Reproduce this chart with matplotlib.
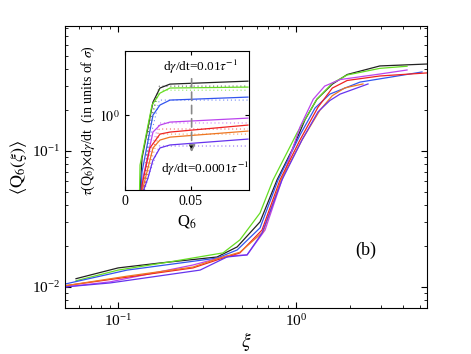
import numpy as np
import matplotlib
matplotlib.use("Agg")
import matplotlib.pyplot as plt

plt.rcParams["font.family"] = ["Liberation Serif", "DejaVu Serif"]
plt.rcParams["mathtext.fontset"] = "stix"

# main panel: <Q6(xi)> vs xi, one curve per shear rate
xi_black = [0.058, 0.1, 0.172, 0.36, 0.467, 0.628, 0.782, 0.95, 1.125, 1.31, 1.6, 1.94, 2.96, 5.45]
q6_black = [0.0115, 0.0138, 0.0150, 0.0166, 0.0197, 0.0301, 0.0612, 0.1016, 0.170, 0.240, 0.310, 0.365, 0.422, 0.436]
xi_green = [0.058, 0.1, 0.196, 0.389, 0.484, 0.628, 0.743, 1.013, 1.31, 1.6, 1.94, 2.96, 4.21]
q6_green = [0.0111, 0.0133, 0.0153, 0.0178, 0.0222, 0.035, 0.0612, 0.1355, 0.240, 0.315, 0.362, 0.405, 0.420]
xi_blue = [0.0503, 0.1124, 0.36, 0.467, 0.628, 0.793, 1.053, 1.28, 1.55, 2.29, 5.11]
q6_blue = [0.0105, 0.0133, 0.0163, 0.0187, 0.0272, 0.0612, 0.131, 0.207, 0.262, 0.321, 0.381]
xi_magenta = [0.0503, 0.0902, 0.2636, 0.409, 0.531, 0.670, 0.834, 1.053, 1.25, 1.45, 1.77, 2.96, 4.21]
q6_magenta = [0.0100, 0.0109, 0.0145, 0.0169, 0.0172, 0.0262, 0.0612, 0.150, 0.240, 0.300, 0.335, 0.368, 0.394]
xi_red = [0.0503, 0.1124, 0.2636, 0.36, 0.484, 0.644, 0.813, 1.053, 1.33, 1.6, 1.94, 2.96, 5.45]
q6_red = [0.0102, 0.0118, 0.0138, 0.0158, 0.0178, 0.0262, 0.0612, 0.1205, 0.210, 0.290, 0.330, 0.356, 0.375]
xi_orange = [0.0503, 0.1124, 0.2636, 0.36, 0.484, 0.653, 0.824, 1.081, 1.365, 1.6, 1.88, 2.38]
q6_orange = [0.0102, 0.0120, 0.0140, 0.0161, 0.018, 0.0254, 0.0612, 0.1205, 0.200, 0.255, 0.291, 0.311]
xi_purple = [0.0503, 0.0902, 0.289, 0.409, 0.531, 0.644, 0.834, 1.081, 1.33, 1.55, 1.77, 2.54]
q6_purple = [0.0100, 0.0107, 0.0133, 0.0166, 0.0172, 0.0249, 0.0612, 0.1205, 0.194, 0.235, 0.262, 0.311]

# inset: tau(Q6) x dgamma/dt vs Q6
iq_black = [0.0114, 0.0129, 0.0212, 0.0265, 0.0341, 0.0932]
it_black = [0.39, 0.592, 1.175, 1.397, 1.466, 1.52]
iq_green = [0.0110, 0.0114, 0.0205, 0.0265, 0.0341, 0.0932]
it_green = [0.39, 0.543, 1.134, 1.312, 1.397, 1.413]
iq_blue = [0.0121, 0.0129, 0.0212, 0.0265, 0.0341, 0.0932]
it_blue = [0.38, 0.499, 1.002, 1.134, 1.205, 1.25]
iq_magenta = [0.0130, 0.0136, 0.0212, 0.0265, 0.0341, 0.0932]
it_magenta = [0.38, 0.463, 0.814, 0.887, 0.920, 0.966]
iq_red = [0.0125, 0.0129, 0.0189, 0.0265, 0.0341, 0.0932]
it_red = [0.38, 0.425, 0.670, 0.794, 0.814, 0.887]
iq_orange = [0.0132, 0.0136, 0.0212, 0.0265, 0.0341, 0.0932]
it_orange = [0.38, 0.410, 0.670, 0.738, 0.765, 0.824]
iq_purple = [0.0136, 0.0174, 0.0212, 0.0265, 0.0341, 0.0932]
it_purple = [0.39, 0.463, 0.578, 0.670, 0.695, 0.747]

# dotted reference curves in the inset
dot_q = [0.014, 0.018, 0.026, 0.0932]
dot_black = [0.38, 0.85, 1.43, 1.43]
dot_green = [0.38, 0.80, 1.36, 1.36]
dot_blue = [0.38, 0.70, 1.205, 1.205]
dot_magenta = [0.38, 0.60, 0.91, 0.91]
dot_red = [0.38, 0.55, 0.845, 0.845]
dot_orange = [0.38, 0.52, 0.794, 0.794]
dot_purple = [0.38, 0.48, 0.686, 0.686]

colors = {
    "black": "#222222", "green": "#66dd22", "blue": "#3355ee",
    "magenta": "#bb44ee", "red": "#ee2222", "orange": "#ee7722", "purple": "#6633ee",
}

main = [
    ("black", xi_black, q6_black), ("green", xi_green, q6_green),
    ("blue", xi_blue, q6_blue), ("magenta", xi_magenta, q6_magenta),
    ("red", xi_red, q6_red), ("orange", xi_orange, q6_orange),
    ("purple", xi_purple, q6_purple),
]
inset = [
    ("black", iq_black, it_black, dot_black), ("green", iq_green, it_green, dot_green),
    ("blue", iq_blue, it_blue, dot_blue), ("magenta", iq_magenta, it_magenta, dot_magenta),
    ("red", iq_red, it_red, dot_red), ("orange", iq_orange, it_orange, dot_orange),
    ("purple", iq_purple, it_purple, dot_purple),
]

fig = plt.figure(figsize=(4.71, 3.54), dpi=100)
ax = fig.add_axes([65 / 471, 1 - 308 / 354, 362 / 471, 282 / 354])

for name, x, y in main:
    ax.plot(x, y, color=colors[name], lw=0.9)

ax.set_xscale("log")
ax.set_yscale("log")
ax.set_xlim(0.0503, 5.45)
ax.set_ylim(0.0070, 0.83)
ax.tick_params(which="both", direction="in", top=True, right=True, labelsize=11)
ax.tick_params(which="major", length=4)
ax.tick_params(which="minor", length=2)
ax.set_xlabel(r"$\xi$", fontsize=14, labelpad=1)
ax.set_ylabel(r"$\langle \mathrm{Q}_6(\xi)\rangle$", fontsize=13, labelpad=2)
ax.text(0.83, 0.205, "(b)", transform=ax.transAxes, fontsize=13, ha="center", va="center")

ins = fig.add_axes([125 / 471, 1 - 190 / 354, 124 / 471, 139 / 354])
for name, x, y, yd in inset:
    ins.plot(dot_q, yd, color=colors[name], lw=0.8, ls=(0, (1, 2.5)), alpha=0.7)
    ins.plot(x, y, color=colors[name], lw=0.9)

ins.set_yscale("log")
ins.set_xlim(0, 0.094)
ins.set_ylim(0.4, 2.2)
ins.set_xticks([0, 0.05])
ins.set_xticklabels(["0", "0.05"])
ins.set_yticks([1.0])
ins.set_yticklabels([r"$10^0$"])
ins.yaxis.set_minor_locator(matplotlib.ticker.NullLocator())
ins.tick_params(which="both", direction="in", top=True, right=True, labelsize=10, length=3)
ins.set_xlabel(r"Q$_6$", fontsize=12, labelpad=4)
ins.set_ylabel(r"$\tau$(Q$_6$)$\times$d$\gamma$/dt  (in units of $\sigma$)", fontsize=10, labelpad=2)

ins.annotate("", xy=(0.0505, 0.615), xytext=(0.0505, 1.62),
             arrowprops=dict(arrowstyle="-|>", color="#888888", lw=1.2, ls=(0, (5, 3)),
                             mutation_scale=10, fc="black", ec="#888888"))
ins.text(0.057, 1.80, r"d$\gamma$/dt=0.01$\tau^{-1}$", fontsize=9.5, ha="center", va="center")
ins.text(0.0605, 0.52, r"d$\gamma$/dt=0.0001$\tau^{-1}$", fontsize=9.5, ha="center", va="center")

fig.savefig("out.png", dpi=100)
